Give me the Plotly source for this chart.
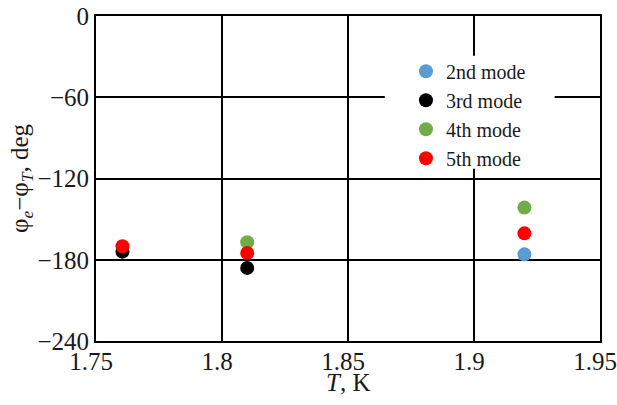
import plotly.graph_objects as go

series_names = ["2nd mode", "3rd mode", "4th mode", "5th mode"]
colors = ["#5b9bd5", "#000000", "#70ad47", "#ff0000"]
x_2nd = [1.920]
y_2nd = [-176]
x_3rd = [1.7605, 1.810]
y_3rd = [-174, -186]
x_4th = [1.810, 1.920]
y_4th = [-167, -141.5]
x_5th = [1.7605, 1.810, 1.920]
y_5th = [-170, -175, -160.5]

xs = [x_2nd, x_3rd, x_4th, x_5th]
ys = [y_2nd, y_3rd, y_4th, y_5th]

x_ticks = [1.75, 1.8, 1.85, 1.9, 1.95]
x_tick_labels = ["1.75", "1.8", "1.85", "1.9", "1.95"]
y_ticks = [0, -60, -120, -180, -240]
x_title = "<i>T</i>, K"
y_title = "φ<sub><i>e</i></sub>−φ<sub><i>T</i></sub>, deg"

fig = go.Figure()
for name, c, x, y in zip(series_names, colors, xs, ys):
    fig.add_trace(go.Scatter(x=x, y=y, mode="markers", name=name,
                             marker=dict(color=c, size=14, line=dict(width=0))))

font_family = "Liberation Serif"
txt = "#1a1a1a"
fs = 25
fig.update_layout(
    width=617, height=405,
    margin=dict(l=96, r=17, t=16, b=64, autoexpand=False),
    paper_bgcolor="white", plot_bgcolor="white",
    font=dict(family=font_family, size=fs, color=txt),
    showlegend=True,
    legend=dict(x=0.615, y=0.89, xanchor="left", yanchor="top",
                bgcolor="rgba(0,0,0,0)", font=dict(size=20, color=txt),
                borderwidth=0, itemwidth=30),
    shapes=[dict(type="rect", xref="paper", yref="paper", layer="above",
                 x0=0.573, x1=0.91, y0=0.53, y1=0.878,
                 fillcolor="white", line=dict(width=0))],
    annotations=[dict(text=x_title, xref="paper", yref="paper", x=0.5, y=0,
                      xanchor="center", yanchor="middle", yshift=-41,
                      showarrow=False, font=dict(size=fs, color=txt))],
    xaxis=dict(range=[1.75, 1.95], tickvals=x_ticks, ticktext=x_tick_labels,
               showgrid=True, gridcolor="black", gridwidth=1.5,
               showline=True, linecolor="black", linewidth=2, mirror=True,
               ticks="", zeroline=False, automargin=False,
               ticklabeloverflow="allow", ticklabelstandoff=-3,
               ticklabelshift=-5, tickfont=dict(size=fs, color=txt)),
    yaxis=dict(range=[-240, 0], tickvals=y_ticks,
               showgrid=True, gridcolor="black", gridwidth=1.5,
               showline=True, linecolor="black", linewidth=2, mirror=True,
               ticks="", zeroline=False, automargin=False,
               ticklabeloverflow="allow",
               tickfont=dict(size=fs, color=txt),
               title=dict(text=y_title, font=dict(size=fs, color=txt), standoff=2)),
)

fig.write_html("out.html", post_script="document.body.style.margin='0';",
               config={"displayModeBar": False})
